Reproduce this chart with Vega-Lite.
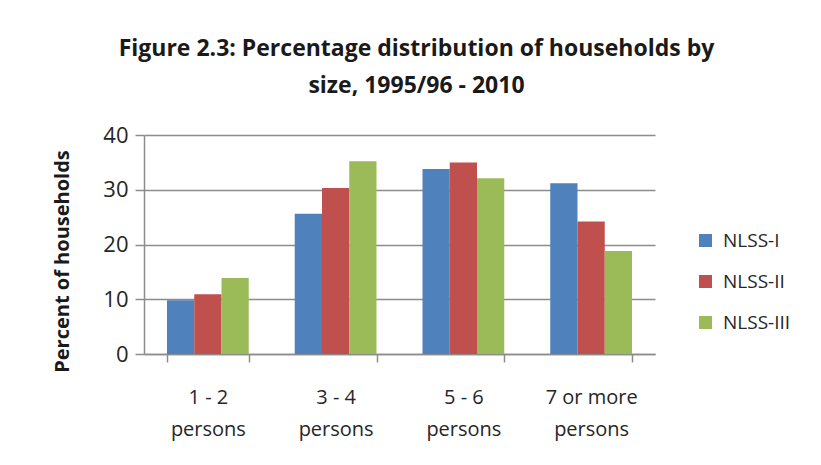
{
  "$schema": "https://vega.github.io/schema/vega-lite/v6.json",
  "autosize": "none",
  "width": 511,
  "height": 219,
  "padding": {"left": 144, "top": 135, "right": 166, "bottom": 111},
  "background": "white",
  "title": {
    "text": ["Figure 2.3: Percentage distribution of households by", "size,  1995/96 - 2010"],
    "font": "Open Sans",
    "fontSize": 23,
    "fontWeight": "bold",
    "color": "#1a1a1a",
    "anchor": "middle",
    "dx": 17,
    "offset": 26,
    "lineHeight": 37
  },
  "data": {
    "values": [
      {"size": "1 - 2 persons", "survey": "NLSS-I", "pct": 9.8},
      {"size": "1 - 2 persons", "survey": "NLSS-II", "pct": 10.9},
      {"size": "1 - 2 persons", "survey": "NLSS-III", "pct": 13.9},
      {"size": "3 - 4 persons", "survey": "NLSS-I", "pct": 25.6},
      {"size": "3 - 4 persons", "survey": "NLSS-II", "pct": 30.3},
      {"size": "3 - 4 persons", "survey": "NLSS-III", "pct": 35.2},
      {"size": "5 - 6 persons", "survey": "NLSS-I", "pct": 33.8},
      {"size": "5 - 6 persons", "survey": "NLSS-II", "pct": 35.0},
      {"size": "5 - 6 persons", "survey": "NLSS-III", "pct": 32.1},
      {"size": "7 or more persons", "survey": "NLSS-I", "pct": 31.2},
      {"size": "7 or more persons", "survey": "NLSS-II", "pct": 24.2},
      {"size": "7 or more persons", "survey": "NLSS-III", "pct": 18.8}
    ]
  },
  "mark": {"type": "bar"},
  "encoding": {
    "x": {
      "field": "size",
      "type": "nominal",
      "sort": null,
      "scale": {"paddingInner": 0.36, "paddingOuter": 0.18},
      "axis": {
        "title": null,
        "labelAngle": 0,
        "labelAlign": "center",
        "labelBound": false,
        "labelOverlap": false,
        "labelExpr": "datum.label ? [replace(datum.label, ' persons', ''), 'persons'] : ''",
        "labelFont": "Open Sans",
        "labelFontSize": 20,
        "labelColor": "#262626",
        "labelLineHeight": 32,
        "labelPadding": 25,
        "tickBand": "extent",
        "tickSize": 8,
        "tickColor": "#8c8c8c",
        "tickWidth": 1.5,
        "domainColor": "#8c8c8c",
        "domainWidth": 1.5,
        "grid": false
      }
    },
    "xOffset": {"field": "survey", "type": "nominal", "sort": ["NLSS-I", "NLSS-II", "NLSS-III"], "scale": {"paddingInner": 0, "paddingOuter": 0}},
    "y": {
      "field": "pct",
      "type": "quantitative",
      "scale": {"domain": [0, 40], "nice": false},
      "axis": {
        "values": [0, 10, 20, 30, 40],
        "title": "Percent of households",
        "titleFont": "Open Sans",
        "titleFontSize": 20,
        "titleFontWeight": "bold",
        "titleColor": "#1a1a1a",
        "titleX": -82,
        "titleY": 126,
        "titleBaseline": "middle",
        "titleAlign": "center",
        "titleAngle": -90,
        "labelFont": "Open Sans",
        "labelFontSize": 22,
        "labelColor": "#262626",
        "labelPadding": 7,
        "tickSize": 9,
        "tickColor": "#8c8c8c",
        "tickWidth": 1.5,
        "domainColor": "#8c8c8c",
        "domainWidth": 1.5,
        "grid": true,
        "gridColor": "#8c8c8c",
        "gridWidth": 1.5
      }
    },
    "color": {
      "field": "survey",
      "type": "nominal",
      "sort": ["NLSS-I", "NLSS-II", "NLSS-III"],
      "scale": {"domain": ["NLSS-I", "NLSS-II", "NLSS-III"], "range": ["#4F81BD", "#C0504D", "#9BBB59"]},
      "legend": {
        "title": null,
        "orient": "none",
        "legendX": 552,
        "legendY": 96,
        "symbolType": "square",
        "symbolSize": 169,
        "symbolStrokeWidth": 0,
        "labelFont": "Open Sans",
        "labelFontSize": 19,
        "labelColor": "#262626",
        "labelOffset": 8,
        "rowPadding": 21
      }
    }
  },
  "config": {"view": {"stroke": null}}
}
